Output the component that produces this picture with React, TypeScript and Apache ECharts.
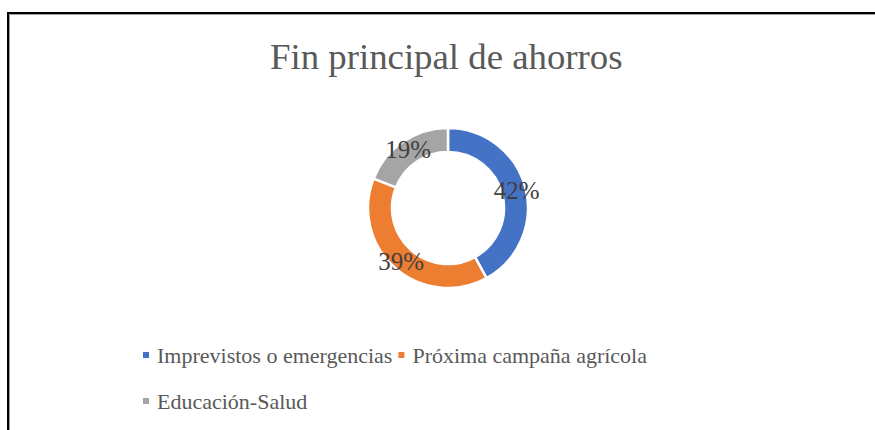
import React, { useEffect, useRef } from "react";
import * as echarts from "echarts";

const categories = ["Imprevistos o emergencias", "Próxima campaña agrícola", "Educación-Salud"];
const values = [42, 39, 19];
const colors = ["#4472C4", "#ED7D31", "#A5A5A5"];
const title = "Fin principal de ahorros";

const FONT = "'Liberation Serif', 'Times New Roman', serif";

export default function App() {
  const ref = useRef<HTMLDivElement>(null);
  useEffect(() => {
    if (!ref.current) return;
    const chart = echarts.init(ref.current, undefined, { renderer: "svg" });
    const legendText = { fontFamily: FONT, fontSize: 22, color: "#595959", padding: [0, 0, 0, 2] };
    chart.setOption({
      animation: false,
      backgroundColor: "#ffffff",
      title: {
        text: title,
        left: 265,
        top: 33,
        textStyle: { fontFamily: FONT, fontSize: 36.8, fontWeight: "normal", color: "#595959" },
      },
      legend: [
        {
          data: categories.slice(0, 2),
          left: 136,
          top: 339,
          orient: "horizontal",
          icon: "rect",
          itemWidth: 8,
          itemHeight: 8,
          itemGap: 4,
          textStyle: legendText,
        },
        {
          data: categories.slice(2),
          left: 136,
          top: 385,
          orient: "horizontal",
          icon: "rect",
          itemWidth: 8,
          itemHeight: 8,
          itemGap: 4,
          textStyle: legendText,
        },
      ],
      graphic: [
        {
          type: "rect",
          shape: { x: 9.5, y: 14.5, width: 1000, height: 1000 },
          style: { fill: "none", stroke: "#a0a0a0", lineWidth: 1 },
          silent: true,
        },
        {
          type: "rect",
          shape: { x: 8, y: 13, width: 1000, height: 1000 },
          style: { fill: "none", stroke: "#000000", lineWidth: 2 },
          silent: true,
        },
      ],
      series: [
        {
          type: "pie",
          center: [448, 208],
          radius: [56, 80],
          startAngle: 90,
          clockwise: true,
          avoidLabelOverlap: false,
          itemStyle: { borderColor: "#ffffff", borderWidth: 2.5 },
          label: {
            show: true,
            position: "inside",
            formatter: "{d}%",
            fontFamily: FONT,
            fontSize: 25,
            color: "#404040",
          },
          labelLine: { show: false },
          emphasis: { disabled: true },
          data: categories.map((name, i) => ({ name, value: values[i], itemStyle: { color: colors[i] } })),
        },
      ],
    });
    return () => chart.dispose();
  }, []);
  return (
    <div
      ref={ref}
      style={{ position: "fixed", left: 0, top: 0, width: 875, height: 430 }}
    />
  );
}
